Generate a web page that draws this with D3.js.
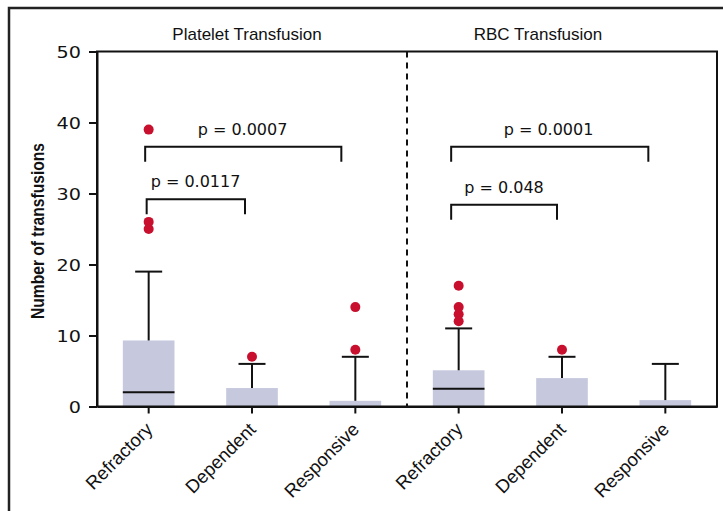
<!DOCTYPE html>
<html>
<head>
<meta charset="utf-8">
<script src="https://cdn.jsdelivr.net/npm/d3@7"></script>
<style>
  html, body { margin: 0; padding: 0; background: #fff; }
  svg { display: block; }
</style>
</head>
<body>
<svg id="chart" width="723" height="511"></svg>
<script>
// ---------- data ----------
const groups = ["Platelet Transfusion", "RBC Transfusion"];
const categories = ["Refractory", "Dependent", "Responsive"];
const q3Values = [9.3, 2.6, 0.8, 5.1, 4.0, 0.9];          // box top (box starts at 0)
const medianValues = [2.0, 0, 0, 2.5, 0, 0];
const whiskerHigh = [19, 6, 7, 11, 7, 6];
const outlierValues = [[39, 26, 25], [7], [8, 14], [17, 14, 13, 12], [8], []];
const yTicks = [0, 10, 20, 30, 40, 50];
const yTitle = "Number of transfusions";
// comparisons: group, from category, to category, p-label
const compGroup = [0, 0, 1, 1];
const compFrom = [0, 0, 0, 0];
const compTo = [1, 2, 1, 2];
const compLabels = ["p = 0.0117", "p = 0.0007", "p = 0.048", "p = 0.0001"];

// ---------- layout ----------
const svg = d3.select("#chart");
const L = 97, R = 717, T = 51.5, B = 406.5;
const keys = [];
groups.forEach(g => categories.forEach(c => keys.push(g + "|" + c)));

const x = d3.scaleBand().domain(keys).range([L, R]).padding(0);
const y = d3.scaleLinear().domain([0, 50]).range([B, T]);
const barW = x.bandwidth() * 0.5;
const capW = 27;
const cx = i => x(keys[i]) + x.bandwidth() / 2;

const barColor = "#c6c9de";
const dotColor = "#c8102e";

// outer frame (top + left)
svg.append("path").attr("d", "M9,511 L9,8 L723,8")
  .attr("fill", "none").attr("stroke", "#222").attr("stroke-width", 2.5);

// group titles
const titleX = [247, 538];
groups.forEach((g, i) => {
  svg.append("text").attr("x", titleX[i]).attr("y", 40)
    .attr("text-anchor", "middle")
    .attr("font-family", "Liberation Sans, Arial, sans-serif")
    .attr("font-size", 17).attr("fill", "#111").text(g);
});

// bars
const plot = svg.append("g");
plot.selectAll("rect.bar").data(q3Values).join("rect")
  .attr("class", "bar")
  .attr("x", (d, i) => cx(i) - barW / 2)
  .attr("y", d => y(d))
  .attr("width", barW)
  .attr("height", d => y(0) - y(d))
  .attr("fill", barColor);

// medians
plot.selectAll("line.med").data(medianValues).join("line")
  .attr("class", "med")
  .attr("x1", (d, i) => cx(i) - barW / 2)
  .attr("x2", (d, i) => cx(i) + barW / 2)
  .attr("y1", d => y(d)).attr("y2", d => y(d))
  .attr("stroke", "#111").attr("stroke-width", 2)
  .attr("display", d => d > 0 ? null : "none");

// whiskers
plot.selectAll("line.wh").data(whiskerHigh).join("line")
  .attr("class", "wh")
  .attr("x1", (d, i) => cx(i)).attr("x2", (d, i) => cx(i))
  .attr("y1", (d, i) => y(q3Values[i])).attr("y2", d => y(d))
  .attr("stroke", "#111").attr("stroke-width", 2);
plot.selectAll("line.cap").data(whiskerHigh).join("line")
  .attr("class", "cap")
  .attr("x1", (d, i) => cx(i) - capW / 2).attr("x2", (d, i) => cx(i) + capW / 2)
  .attr("y1", d => y(d)).attr("y2", d => y(d))
  .attr("stroke", "#111").attr("stroke-width", 2);

// outliers
const pts = [];
outlierValues.forEach((arr, i) => arr.forEach(v => pts.push({ i, v })));
plot.selectAll("circle.out").data(pts).join("circle")
  .attr("class", "out")
  .attr("cx", d => cx(d.i)).attr("cy", d => y(d.v))
  .attr("r", 5).attr("fill", dotColor);

// dashed divider
svg.append("line")
  .attr("x1", (L + R) / 2).attr("x2", (L + R) / 2)
  .attr("y1", T).attr("y2", B)
  .attr("stroke", "#111").attr("stroke-width", 2)
  .attr("stroke-dasharray", "6,5");

// plot frame
svg.append("rect").attr("x", L).attr("y", T).attr("width", R - L).attr("height", B - T)
  .attr("fill", "none").attr("stroke", "#111").attr("stroke-width", 2);

// y axis
const yAxis = svg.append("g").attr("transform", `translate(${L},0)`)
  .call(d3.axisLeft(y).tickValues(yTicks).tickSize(8).tickSizeOuter(0).tickPadding(8));
yAxis.select(".domain").attr("stroke", "#111").attr("stroke-width", 2);
yAxis.selectAll(".tick line").attr("stroke", "#111").attr("stroke-width", 2);
yAxis.selectAll(".tick text")
  .attr("font-family", "DejaVu Sans, sans-serif").attr("font-size", 16).attr("fill", "#111")
  .attr("dy", "0.36em")
  .attr("textLength", d => String(d).length * 12.2)
  .attr("lengthAdjust", "spacingAndGlyphs");

// x axis
const xAxis = svg.append("g").attr("transform", `translate(0,${B})`)
  .call(d3.axisBottom(x).tickSize(7).tickSizeOuter(0).tickFormat(k => k.split("|")[1]));
xAxis.select(".domain").attr("stroke", "#111").attr("stroke-width", 2);
xAxis.selectAll(".tick line").attr("stroke", "#111").attr("stroke-width", 2);
xAxis.selectAll(".tick text")
  .attr("font-family", "Liberation Sans, Arial, sans-serif").attr("font-size", 18.5).attr("fill", "#111")
  .attr("text-anchor", "end")
  .attr("x", 0).attr("y", 0).attr("dy", 0)
  .attr("transform", "translate(5,24) rotate(-45)");

// y title
svg.append("text")
  .attr("transform", "translate(44,231) rotate(-90)")
  .attr("text-anchor", "middle")
  .attr("font-family", "Liberation Sans Narrow, Arial Narrow, Liberation Sans, sans-serif")
  .attr("font-size", 19).attr("font-weight", "bold").attr("fill", "#111")
  .attr("textLength", 176).attr("lengthAdjust", "spacingAndGlyphs")
  .text(yTitle);

// comparison brackets (level/leg in data units, x offsets in px)
const brTop = [29.2, 36.6, 28.4, 36.6];
const legLen = 15;
const leftOff = [-2, -3.5, -7.5, -7.5];
const rightOff = [-7, -14, -5, -17];
const labelX = [195.5, 242.5, 504, 548.5];
const br = svg.append("g");
compLabels.forEach((lab, k) => {
  const i0 = compGroup[k] * 3 + compFrom[k];
  const i1 = compGroup[k] * 3 + compTo[k];
  const x0 = cx(i0) + leftOff[k], x1 = cx(i1) + rightOff[k];
  const yy = y(brTop[k]);
  br.append("path")
    .attr("d", `M${x0},${yy + legLen} L${x0},${yy} L${x1},${yy} L${x1},${yy + legLen}`)
    .attr("fill", "none").attr("stroke", "#111").attr("stroke-width", 2);
  br.append("text").attr("x", labelX[k]).attr("y", yy - 12)
    .attr("text-anchor", "middle")
    .attr("font-family", "DejaVu Sans, sans-serif").attr("font-size", 16).attr("fill", "#111")
    .text(lab);
});
</script>
</body>
</html>
